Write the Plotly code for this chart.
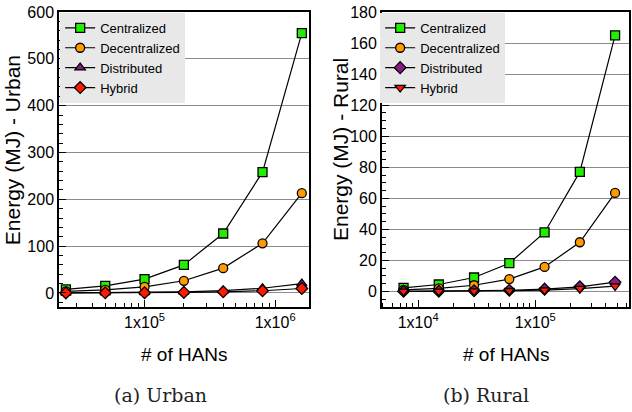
import plotly.graph_objects as go

# ---- data ----
urban_hans = [25000, 50000, 100000, 200000, 400000, 800000, 1600000]
urban_centralized = [7.5, 15, 29.5, 60, 127, 258, 555]
urban_decentralized = [3.3, 6.5, 13, 26, 53, 106, 213]
urban_distributed = [0.3, 0.6, 1.3, 2.5, 5, 10, 20]
urban_hybrid = [0.15, 0.3, 0.6, 1.2, 2.4, 4.7, 9.5]

rural_hans = [7500, 15000, 30000, 60000, 120000, 240000, 480000]
rural_centralized = [2.3, 4.5, 9, 18.2, 38, 77, 165]
rural_decentralized = [1, 2, 4, 8, 15.8, 31.7, 63.5]
rural_distributed = [0.1, 0.2, 0.4, 0.8, 1.5, 3, 6]
rural_hybrid = [0.05, 0.1, 0.2, 0.45, 0.9, 1.8, 3.5]

series_names = ["Centralized", "Decentralized", "Distributed", "Hybrid"]
urban_tickvals = [1e5, 1e6]
urban_ticktext = ["1x10<sup>5</sup>", "1x10<sup>6</sup>"]
rural_tickvals = [1e4, 1e5]
rural_ticktext = ["1x10<sup>4</sup>", "1x10<sup>5</sup>"]

GREEN = "#22ee00"
ORANGE = "#ff9a00"
PURPLE = "#8b1a89"
RED = "#ff1a00"
SANS = "Liberation Sans, Arial, sans-serif"

W, H = 632, 412
ML, MR, MT, MB = 59, 1, 12, 105
PW = W - ML - MR
PH = H - MT - MB


def px_x(p):
    return (p - ML) / PW


def minor_log(lo, hi):
    vals = []
    for e in range(3, 7):
        for k in range(2, 10):
            v = k * 10 ** e
            if lo < v < hi:
                vals.append(v)
    return vals


fig = go.Figure()

urban = [
    (urban_centralized, "square", GREEN),
    (urban_decentralized, "circle", ORANGE),
    (urban_distributed, "triangle-up", PURPLE),
    (urban_hybrid, "diamond", RED),
]
rural = [
    (rural_centralized, "square", GREEN),
    (rural_decentralized, "circle", ORANGE),
    (rural_distributed, "diamond", PURPLE),
    (rural_hybrid, "triangle-down", RED),
]

for name, (vals, sym, col) in zip(series_names, urban):
    fig.add_trace(go.Scatter(
        x=urban_hans, y=vals, name=name, mode="lines+markers",
        line=dict(color="black", width=1.2),
        marker=dict(symbol=sym, size=9, color=col, line=dict(color="black", width=1.3)),
        xaxis="x", yaxis="y", legend="legend",
    ))

for name, (vals, sym, col) in zip(series_names, rural):
    fig.add_trace(go.Scatter(
        x=rural_hans, y=vals, name=name, mode="lines+markers",
        line=dict(color="black", width=1.2),
        marker=dict(symbol=sym, size=9, color=col, line=dict(color="black", width=1.3)),
        xaxis="x2", yaxis="y2", legend="legend2",
    ))

x1_dom = [0, px_x(310)]
x2_dom = [px_x(383), 1]

common_x = dict(
    type="log", showgrid=False, zeroline=False, showline=True, linecolor="black",
    linewidth=1.5, mirror=True, ticks="inside", ticklen=7, tickcolor="black",
    tickfont=dict(family=SANS, size=16, color="black"),
)
common_y = dict(
    showgrid=True, gridcolor="#8c8c8c", gridwidth=1, zeroline=False, showline=True,
    linecolor="black", linewidth=1.5, mirror=True, ticks="inside", ticklen=7,
    tickcolor="black", tickfont=dict(family=SANS, size=16, color="black"),
)

ux_lo, ux_hi = 4.345, 6.26
rx_lo, rx_hi = 3.69, 5.80

legend_style = dict(y=0.997, xanchor="left", yanchor="top", bgcolor="#e8e8e8",
                    borderwidth=0, font=dict(family=SANS, size=13, color="black"),
                    itemwidth=30, tracegroupgap=0)

fig.update_layout(
    width=W, height=H,
    margin=dict(l=ML, r=MR, t=MT, b=MB),
    paper_bgcolor="white", plot_bgcolor="white",
    xaxis=dict(common_x, domain=x1_dom, anchor="y", range=[ux_lo, ux_hi],
               tickvals=urban_tickvals, ticktext=urban_ticktext,
               minor=dict(tickvals=minor_log(10 ** ux_lo, 10 ** ux_hi), ticks="inside",
                          ticklen=4, tickcolor="black", showgrid=False)),
    yaxis=dict(common_y, domain=[0, 1], anchor="x", range=[-30, 600], dtick=100,
               minor=dict(dtick=20, ticks="inside", ticklen=4, tickcolor="black",
                          showgrid=False)),
    xaxis2=dict(common_x, domain=x2_dom, anchor="y2", range=[rx_lo, rx_hi],
                tickvals=rural_tickvals, ticktext=rural_ticktext,
                minor=dict(tickvals=minor_log(10 ** rx_lo, 10 ** rx_hi), ticks="inside",
                           ticklen=4, tickcolor="black", showgrid=False)),
    yaxis2=dict(common_y, domain=[0, 1], anchor="x2", range=[-10, 180], dtick=20,
                minor=dict(dtick=5, ticks="inside", ticklen=4, tickcolor="black",
                           showgrid=False)),
    legend=dict(legend_style, x=x1_dom[0] + 0.002),
    legend2=dict(legend_style, x=x2_dom[0] - 0.003),
    showlegend=True,
)

# axis titles and captions, positioned in page pixels
ann = []
ann.append(dict(text="Energy (MJ) - Urban", px=12, py=150, textangle=-90,
                font=dict(family=SANS, size=21, color="black")))
ann.append(dict(text="Energy (MJ) - Rural", px=341, py=150, textangle=-90,
                font=dict(family=SANS, size=21, color="black")))
ann.append(dict(text="# of HANs", px=185, py=354,
                font=dict(family=SANS, size=19, color="black")))
ann.append(dict(text="# of HANs", px=508, py=354,
                font=dict(family=SANS, size=19, color="black")))
ann.append(dict(text="(a) Urban", px=161, py=395,
                font=dict(family="DejaVu Serif, serif", size=19, color="#222")))
ann.append(dict(text="(b) Rural", px=487, py=395,
                font=dict(family="DejaVu Serif, serif", size=19, color="#222")))
for a in ann:
    px, py = a.pop("px"), a.pop("py")
    a.update(xref="paper", yref="paper", showarrow=False, xanchor="center", yanchor="middle",
             x=(px - ML) / PW, y=(H - py - MB) / PH)
fig.update_layout(annotations=ann)

# browser default body margin would shift the fixed-size figure
fig.write_html("out.html", config={"displayModeBar": False},
               post_script="document.body.style.margin='0';")
